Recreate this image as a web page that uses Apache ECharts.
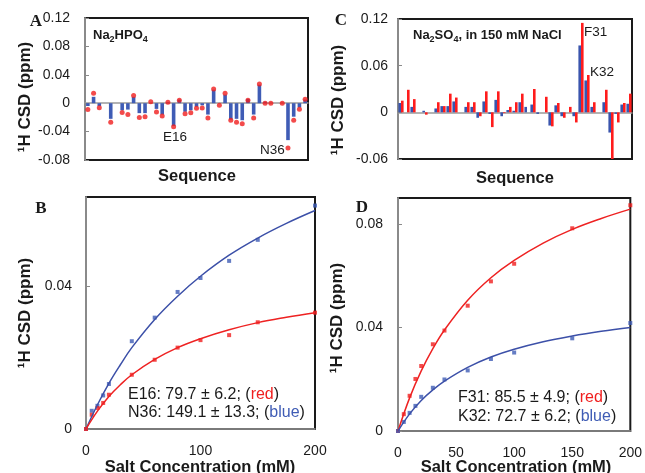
<!DOCTYPE html>
<html>
<head>
<meta charset="utf-8">
<script src="https://cdn.jsdelivr.net/npm/echarts@6/dist/echarts.min.js"></script>
<style>
html,body{margin:0;padding:0;background:#fff;}
#c{width:645px;height:473px;}
</style>
</head>
<body>
<div id="c"></div>
<script>
// ---- Data ----
// Panel A: residues 1..39 (Na2HPO4); blue bars + red dots
const residues = Array.from({length: 39}, (_, i) => String(i + 1));
const blueA = [-0.004, 0.009, -0.004, null, -0.022, null, -0.010, -0.009, 0.009, -0.014,
  -0.014, 0, -0.008, -0.016, 0.001, -0.032, 0.005, -0.012, -0.010, -0.005,
  -0.003, -0.016, 0.019, 0, 0.012, -0.023, -0.022, -0.024, 0.006, -0.016,
  0.026, 0.002, 0, null, 0, -0.052, -0.019, -0.006, 0.005];
const redA = [-0.009, 0.014, -0.0065, null, -0.027, null, -0.013, -0.016, 0.011, -0.020,
  -0.019, 0.002, -0.0125, -0.018, 0.0015, -0.033, 0.004, -0.015, -0.0135, -0.007,
  -0.0066, -0.021, 0.020, -0.003, 0.014, -0.024, -0.027, -0.029, 0.004, -0.021,
  0.027, 0, 0, null, 0, -0.063, -0.024, -0.0084, 0.0056];
const yTicksA = {min: -0.08, max: 0.12, interval: 0.04};

// Panel C: Na2SO4 in 150 mM NaCl; paired bars
const blueC = [0.012, 0, 0.007, null, 0.002, null, 0.005, 0.008, 0.008, 0.014,
  null, 0.007, 0.007, -0.007, 0.014, -0.002, 0.016, -0.005, 0.003, 0.002,
  0.013, 0.007, 0.010, -0.002, 0, -0.017, 0.009, -0.005, 0, -0.005,
  0.086, 0.041, 0.007, null, 0.013, -0.026, -0.002, 0.010, 0.011];
const redC = [0.015, 0.029, 0.017, null, -0.003, null, 0.013, 0.008, 0.024, 0.019,
  null, 0.013, 0.013, -0.005, 0.027, -0.019, 0.027, -0.001, 0.007, 0.013,
  0.024, 0, 0.030, 0, 0.020, -0.018, 0.012, -0.007, 0.007, -0.013,
  0.115, 0.048, 0.013, null, 0.029, -0.060, -0.013, 0.012, 0.024];
const yTicksC = {min: -0.06, max: 0.12, interval: 0.06};

// Panel B: titration (Na2HPO4)
const concB = [0, 5, 10, 15, 20, 40, 60, 80, 100, 125, 150, 200];
const bluePtsB = [0, 0.0051, 0.0065, 0.0094, 0.0126, 0.0246, 0.0312, 0.0384, 0.0423, 0.0471, 0.0530, 0.0626];
const redPtsB = [0, 0.0040, 0.0059, 0.0073, 0.0096, 0.0152, 0.0194, 0.0228, 0.0249, 0.0263, 0.0299, 0.0326];
const fitX = [0, 10, 20, 30, 40, 60, 80, 100, 125, 150, 175, 200];
const blueFitB = [0, 0.0068, 0.0128, 0.0180, 0.0228, 0.0307, 0.0372, 0.0428, 0.0487, 0.0535, 0.0576, 0.0612];
const redFitB = [0, 0.0050, 0.0091, 0.0124, 0.0152, 0.0195, 0.0228, 0.0253, 0.0278, 0.0298, 0.0313, 0.0326];

// Panel D: titration (Na2SO4)
const concD = [0, 5, 10, 15, 20, 30, 40, 60, 80, 100, 150, 200];
const redPtsD = [0, 0.0065, 0.0136, 0.0201, 0.0251, 0.0335, 0.0388, 0.0484, 0.0578, 0.0646, 0.0783, 0.0872];
const bluePtsD = [0, 0.0035, 0.0070, 0.0097, 0.0132, 0.0167, 0.0199, 0.0234, 0.0278, 0.0303, 0.0358, 0.0417];
const redFitD = [0, 0.0128, 0.0232, 0.0318, 0.0390, 0.0505, 0.0592, 0.0659, 0.0726, 0.0779, 0.0821, 0.0857];
const blueFitD = [0, 0.0066, 0.0118, 0.0159, 0.0193, 0.0246, 0.0286, 0.0316, 0.0345, 0.0367, 0.0385, 0.0400];

// ---- Styles ----
const FONT = 'Liberation Sans';
const TXT = '#1a1a1a';
const BLUE = '#3f5cb5';
const RED = '#f01e1e';
const CBLUE = '#3a55ad';
const CRED = '#ff1c1c';
const fmt = v => (Math.abs(v) < 1e-9 ? '0' : String(+v.toFixed(3)));
const pair = (xs, ys) => xs.map((x, i) => [x, ys[i]]);
const nz = a => a.map(v => (v === null ? '-' : v));

const gridBase = {show: true, borderColor: '#1a1a1a', borderWidth: 2, backgroundColor: 'transparent', containLabel: false};
const yAxisBase = (gi, lim, margin) => ({
  type: 'value', gridIndex: gi, min: lim.min, max: lim.max, interval: lim.interval,
  splitLine: {show: false},
  axisLine: {show: true, lineStyle: {color: '#8a8a8a', width: 2}},
  axisTick: {show: true, inside: true, length: 4, lineStyle: {color: '#8a8a8a'}},
  axisLabel: {fontSize: 14, color: TXT, margin: margin, formatter: fmt, showMaxLabel: lim.showMax !== false}
});

const option = {
  animation: false,
  textStyle: {fontFamily: FONT},
  grid: [
    Object.assign({left: 85, top: 18, width: 223, height: 142}, gridBase),
    Object.assign({left: 398, top: 19, width: 234, height: 140}, gridBase),
    Object.assign({left: 86, top: 197, width: 229, height: 232}, gridBase),
    Object.assign({left: 398, top: 198, width: 234, height: 233}, gridBase)
  ],
  xAxis: [
    {type: 'category', gridIndex: 0, data: residues, axisLabel: {show: false}, axisTick: {show: false},
     axisLine: {onZero: true, lineStyle: {color: '#9a9a9a', width: 1.5}}},
    {type: 'category', gridIndex: 1, data: residues, axisLabel: {show: false}, axisTick: {show: false},
     axisLine: {onZero: true, lineStyle: {color: '#9a9a9a', width: 1.5}}},
    {type: 'value', gridIndex: 2, min: 0, max: 200, interval: 100, splitLine: {show: false},
     axisLine: {onZero: false, lineStyle: {color: '#9a9a9a', width: 1.5}},
     axisTick: {show: false},
     axisLabel: {fontSize: 14, color: TXT, margin: 15}},
    {type: 'value', gridIndex: 3, min: 0, max: 200, interval: 50, splitLine: {show: false},
     axisLine: {onZero: false, lineStyle: {color: '#9a9a9a', width: 1.5}},
     axisTick: {show: false},
     axisLabel: {fontSize: 14, color: TXT, margin: 15}}
  ],
  yAxis: [
    yAxisBase(0, yTicksA, 15),
    yAxisBase(1, yTicksC, 10),
    yAxisBase(2, {min: 0, max: 0.065, interval: 0.04, showMax: false}, 14),
    yAxisBase(3, {min: 0, max: 0.09, interval: 0.04, showMax: false}, 15)
  ],
  series: [
    {type: 'bar', xAxisIndex: 0, yAxisIndex: 0, data: nz(blueA), barWidth: 3.6,
     itemStyle: {color: BLUE}, z: 2},
    {type: 'scatter', xAxisIndex: 0, yAxisIndex: 0, data: nz(redA), symbol: 'circle', symbolSize: 5,
     itemStyle: {color: RED}, z: 3},
    {type: 'bar', xAxisIndex: 1, yAxisIndex: 1, data: nz(blueC), barWidth: 2.6, barGap: '0%',
     itemStyle: {color: CBLUE}},
    {type: 'bar', xAxisIndex: 1, yAxisIndex: 1, data: nz(redC), barWidth: 2.6, barGap: '0%',
     itemStyle: {color: CRED}},
    {type: 'line', xAxisIndex: 2, yAxisIndex: 2, data: pair(fitX, blueFitB), smooth: 0.4, showSymbol: false,
     lineStyle: {color: '#3c50a8', width: 1.5}},
    {type: 'line', xAxisIndex: 2, yAxisIndex: 2, data: pair(fitX, redFitB), smooth: 0.4, showSymbol: false,
     lineStyle: {color: '#ee2222', width: 1.5}},
    {type: 'scatter', xAxisIndex: 2, yAxisIndex: 2, data: pair(concB, bluePtsB), symbol: 'rect', symbolSize: 4,
     itemStyle: {color: '#3f5cb5'}},
    {type: 'scatter', xAxisIndex: 2, yAxisIndex: 2, data: pair(concB, redPtsB), symbol: 'rect', symbolSize: 4,
     itemStyle: {color: '#f01e1e'}},
    {type: 'line', xAxisIndex: 3, yAxisIndex: 3, data: pair(fitX, redFitD), smooth: 0.4, showSymbol: false,
     lineStyle: {color: '#ee2222', width: 1.5}},
    {type: 'line', xAxisIndex: 3, yAxisIndex: 3, data: pair(fitX, blueFitD), smooth: 0.4, showSymbol: false,
     lineStyle: {color: '#3c50a8', width: 1.5}},
    {type: 'scatter', xAxisIndex: 3, yAxisIndex: 3, data: pair(concD, redPtsD), symbol: 'rect', symbolSize: 4,
     itemStyle: {color: '#f01e1e'}},
    {type: 'scatter', xAxisIndex: 3, yAxisIndex: 3, data: pair(concD, bluePtsD), symbol: 'rect', symbolSize: 4,
     itemStyle: {color: '#3f5cb5'}}
  ],
  graphic: []
};

const G = option.graphic;
const txt = (x, y, text, font, extra) => G.push({type: 'text', x, y, silent: true,
  style: Object.assign({text, font, fill: TXT, align: 'left', verticalAlign: 'middle'}, extra || {})});
const LETTER = 'bold 17px "Liberation Serif"';
txt(36, 22, 'A', LETTER, {align: 'center'});
txt(341, 21, 'C', LETTER, {align: 'center'});
txt(41, 209, 'B', LETTER, {align: 'center'});
txt(362, 208, 'D', LETTER, {align: 'center'});

const YT = 'bold 17px "Liberation Sans"';
[[25, 97], [338, 100], [25, 313], [337, 318]].forEach(([x, y]) =>
  G.push({type: 'text', x, y, rotation: Math.PI / 2, silent: true,
    style: {text: '\u00b9H CSD (ppm)', font: YT, fill: TXT, align: 'center', verticalAlign: 'middle'}}));

const XT = 'bold 16.5px "Liberation Sans"';
txt(197, 176, 'Sequence', XT, {align: 'center'});
txt(515, 178, 'Sequence', XT, {align: 'center'});
txt(200, 467, 'Salt Concentration (mM)', XT, {align: 'center'});
txt(516, 467, 'Salt Concentration (mM)', XT, {align: 'center'});

const subRich = {
  b: {fontSize: 13, fontWeight: 'bold', fontFamily: FONT, fill: TXT, lineHeight: 18, verticalAlign: 'middle'},
  s: {fontSize: 9, fontWeight: 'bold', fontFamily: FONT, fill: TXT, lineHeight: 18, verticalAlign: 'bottom', padding: [6, 0, 0, 0]}
};
G.push({type: 'text', x: 93, y: 35, silent: true,
  style: {text: '{b|Na}{s|2}{b|HPO}{s|4}', rich: subRich, verticalAlign: 'middle'}});
G.push({type: 'text', x: 413, y: 35, silent: true,
  style: {text: '{b|Na}{s|2}{b|SO}{s|4}{b|, in 150 mM NaCl}', rich: subRich, verticalAlign: 'middle'}});

const LBL = '13.5px "Liberation Sans"';
txt(163, 137, 'E16', LBL);
txt(260, 150, 'N36', LBL);
txt(584, 32, 'F31', LBL);
txt(590, 72, 'K32', LBL);

const annRich = {
  k: {fontSize: 16, fontFamily: FONT, fill: TXT},
  r: {fontSize: 16, fontFamily: FONT, fill: '#f01e1e'},
  u: {fontSize: 16, fontFamily: FONT, fill: '#3f5cb5'}
};
const ann = (x, y, text) => G.push({type: 'text', x, y, silent: true,
  style: {text, rich: annRich, verticalAlign: 'middle'}});
ann(128, 395, '{k|E16: 79.7 \u00b1 6.2; (}{r|red}{k|)}');
ann(128, 413, '{k|N36: 149.1 \u00b1 13.3; (}{u|blue}{k|)}');
ann(458, 398, '{k|F31: 85.5 \u00b1 4.9; (}{r|red}{k|)}');
ann(458, 417, '{k|K32: 72.7 \u00b1 6.2; (}{u|blue}{k|)}');

const chart = echarts.init(document.getElementById('c'), null, {renderer: 'canvas'});
chart.setOption(option);
</script>
</body>
</html>
